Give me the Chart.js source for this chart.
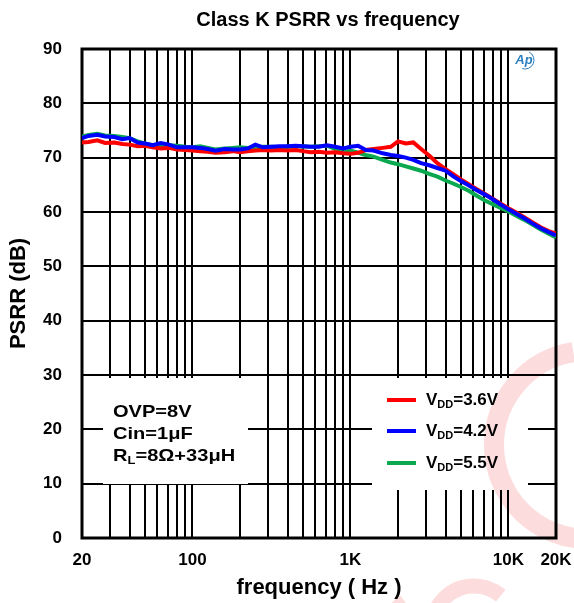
<!DOCTYPE html>
<html>
<head>
<meta charset="utf-8">
<script src="https://cdn.jsdelivr.net/npm/chart.js@4"></script>
<style>
  body { margin: 0; background: #fff; }
</style>
</head>
<body>
<canvas id="canvas" width="574" height="603"></canvas>
<script>
// 周波数 (Hz)
const freqs = [20, 22, 25, 28, 32, 36, 40, 45, 50, 56, 63, 71, 80, 90,
    100, 112, 125, 140, 160, 180, 200, 224, 250, 280, 315, 355, 400, 450, 500, 560, 630, 710, 800, 900,
    1000, 1120, 1250, 1400, 1600, 1800, 2000, 2240, 2500, 2800, 3150, 3550, 4000, 4500, 5000, 5600, 6300, 7100, 8000, 9000,
    10000, 11200, 12500, 14000, 16000, 18000, 20000];

// PSRR (dB)
const psrr36 = [72.8, 72.9, 73.2, 72.7, 72.8, 72.5, 72.4, 72.1, 72.2, 71.9, 71.7, 71.8, 71.5, 71.4,
    71.3, 71.2, 71.1, 70.9, 71.0, 71.2, 71.0, 71.2, 71.3, 71.4, 71.3, 71.4, 71.3, 71.4, 71.2, 71.0, 71.1, 70.9, 71.0, 70.8,
    70.7, 70.9, 71.4, 71.6, 71.8, 72.0, 73.0, 72.6, 72.8, 71.6, 70.4, 69.0, 67.9, 66.9, 66.0, 65.1, 64.2, 63.3, 62.4, 61.5,
    60.7, 59.9, 59.1, 58.2, 57.2, 56.5, 56.0];
const psrr42 = [73.6, 74.0, 74.2, 73.9, 73.8, 73.4, 73.6, 72.8, 72.6, 72.3, 72.7, 72.4, 71.9, 71.9,
    71.9, 71.8, 71.6, 71.3, 71.6, 71.5, 71.5, 71.7, 72.4, 71.9, 72.0, 72.1, 72.1, 72.2, 72.1, 72.0, 72.0, 72.3, 72.0, 71.7,
    72.0, 72.2, 71.4, 71.3, 70.8, 70.5, 70.3, 70.0, 69.6, 69.0, 68.6, 68.1, 67.6, 66.5, 65.7, 64.9, 64.0, 63.2, 62.3, 61.3,
    60.5, 59.7, 58.9, 58.0, 57.0, 56.3, 55.7];
const psrr55 = [73.9, 74.2, 74.4, 74.1, 74.0, 73.8, 73.6, 73.0, 72.6, 72.3, 72.1, 72.3, 72.2, 72.0,
    71.9, 72.1, 71.8, 71.5, 71.7, 71.8, 71.9, 71.8, 71.9, 72.0, 72.0, 71.9, 72.0, 72.0, 72.1, 72.0, 72.1, 72.2, 71.6, 70.9,
    71.3, 70.9, 70.5, 70.2, 69.6, 69.1, 68.8, 68.4, 68.0, 67.6, 67.0, 66.5, 65.8, 65.2, 64.6, 63.9, 63.0, 62.1, 61.4, 60.7,
    60.1, 59.3, 58.6, 57.8, 56.8, 56.0, 55.3];

// 目盛り
const gridFreqs = [20, 30, 40, 50, 60, 70, 80, 90, 100, 200, 300, 400, 500, 600, 700, 800, 900,
    1000, 2000, 3000, 4000, 5000, 6000, 7000, 8000, 9000, 10000, 20000];
const xTickLabels = {20: '20', 100: '100', 1000: '1K', 10000: '10K', 20000: '20K'};

const FONT = "'Liberation Sans', Arial, sans-serif";

function toPoints(values) {
    return freqs.map((f, i) => ({x: f, y: values[i]}));
}

// 横に少し伸ばした文字
function stretchText(ctx, text, x, y, sx) {
    ctx.save();
    ctx.translate(x, y);
    ctx.scale(sx, 1);
    ctx.fillText(text, 0, 0);
    const w = ctx.measureText(text).width * sx;
    ctx.restore();
    return w;
}

// 注記・凡例・枠などを描くプラグイン
const decorPlugin = {
    id: 'decor',
    beforeDatasetsDraw(chart) {
        const ctx = chart.ctx;
        const area = chart.chartArea;
        ctx.save();

        // 注記と凡例の白い箱
        ctx.fillStyle = '#fff';
        ctx.fillRect(103, 378, 145, 106);
        ctx.fillRect(372, 378, 156, 112);

        // 外枠
        ctx.strokeStyle = '#000';
        ctx.lineWidth = 3;
        ctx.strokeRect(area.left, area.top, area.right - area.left, area.bottom - area.top);

        ctx.fillStyle = '#000';
        ctx.textBaseline = 'middle';
        ctx.textAlign = 'left';
        const sx = 1.18;
        ctx.font = 'bold 17px ' + FONT;
        stretchText(ctx, 'OVP=8V', 113, 412, sx);
        stretchText(ctx, 'Cin=1μF', 113, 434, sx);
        let x = 113;
        x += stretchText(ctx, 'R', x, 456, sx);
        ctx.font = 'bold 11px ' + FONT;
        x += stretchText(ctx, 'L', x, 461, sx);
        ctx.font = 'bold 17px ' + FONT;
        stretchText(ctx, '=8Ω+33μH', x, 456, sx);

        // 凡例
        const items = chart.data.datasets;
        const ys = [400, 431, 463];
        items.forEach((ds, i) => {
            const y = ys[i];
            ctx.strokeStyle = ds.borderColor;
            ctx.lineWidth = 4;
            ctx.beginPath();
            ctx.moveTo(387, y);
            ctx.lineTo(416, y);
            ctx.stroke();
            let lx = 426;
            ctx.font = 'bold 17px ' + FONT;
            ctx.fillText('V', lx, y);
            lx += ctx.measureText('V').width;
            ctx.font = 'bold 11px ' + FONT;
            ctx.fillText('DD', lx, y + 5);
            lx += ctx.measureText('DD').width;
            ctx.font = 'bold 17px ' + FONT;
            ctx.fillText('=' + ds.label, lx, y);
        });

        // タイトル
        ctx.textAlign = 'center';
        ctx.font = 'bold 20px ' + FONT;
        ctx.fillText('Class K PSRR vs frequency', 328, 20);

        // ロゴ
        ctx.fillStyle = '#2a7fc0';
        ctx.strokeStyle = '#2a7fc0';
        ctx.font = 'italic bold 13px ' + FONT;
        ctx.fillText('Ap', 524, 60);
        ctx.lineWidth = 1;
        ctx.beginPath();
        ctx.arc(525, 60, 9, -Math.PI * 0.35, Math.PI * 0.6);
        ctx.stroke();
        ctx.restore();
    },
    afterDraw(chart) {
        // うすい透かし
        const ctx = chart.ctx;
        ctx.save();
        ctx.globalCompositeOperation = 'multiply';
        ctx.strokeStyle = '#fcdcdc';
        ctx.lineWidth = 20;
        ctx.beginPath();
        ctx.arc(588, 445, 94, Math.PI * 0.5, Math.PI * 1.45);
        ctx.stroke();
        ctx.lineWidth = 15;
        ctx.beginPath();
        ctx.arc(474, 628, 42, Math.PI * 1.0, Math.PI * 1.72);
        ctx.stroke();
        ctx.beginPath();
        ctx.arc(440, 650, 60, Math.PI * 1.12, Math.PI * 1.3);
        ctx.stroke();
        ctx.restore();
    }
};

const ctx = document.getElementById('canvas').getContext('2d');
new Chart(ctx, {
    type: 'line',
    data: {
        datasets: [
            {label: '3.6V', data: toPoints(psrr36), borderColor: '#ff0000', order: 1},
            {label: '4.2V', data: toPoints(psrr42), borderColor: '#0000ff', order: 0},
            {label: '5.5V', data: toPoints(psrr55), borderColor: '#0aa84f', order: 2}
        ]
    },
    options: {
        responsive: false,
        animation: false,
        layout: {padding: {top: 49, right: 18, left: 0, bottom: 0}},
        elements: {
            point: {radius: 0},
            line: {borderWidth: 4, tension: 0, fill: false}
        },
        plugins: {
            legend: {display: false},
            tooltip: {enabled: false}
        },
        scales: {
            x: {
                type: 'logarithmic',
                min: 20,
                max: 20000,
                afterBuildTicks: (scale) => {
                    scale.ticks = gridFreqs.map(v => ({value: v}));
                },
                afterFit: (scale) => {
                    scale.height = 65;
                    scale.paddingLeft = 0;
                    scale.paddingRight = 0;
                },
                grid: {color: '#000', lineWidth: 2, drawTicks: false},
                border: {display: false},
                ticks: {
                    autoSkip: false,
                    maxRotation: 0,
                    padding: 12,
                    color: '#000',
                    font: {family: FONT, size: 17, weight: 'bold'},
                    callback: (value) => xTickLabels[value] || ''
                },
                title: {
                    display: true,
                    text: 'frequency ( Hz )',
                    color: '#000',
                    font: {family: FONT, size: 22, weight: 'bold'},
                    padding: {top: 0, bottom: 2}
                }
            },
            y: {
                min: 0,
                max: 90,
                afterFit: (scale) => {
                    scale.width = 82;
                    scale.paddingTop = 0;
                    scale.paddingBottom = 0;
                },
                grid: {color: '#000', lineWidth: 2, drawTicks: false},
                border: {display: false},
                ticks: {
                    stepSize: 10,
                    padding: 20,
                    color: '#000',
                    font: {family: FONT, size: 17, weight: 'bold'}
                },
                title: {
                    display: true,
                    text: 'PSRR (dB)',
                    color: '#000',
                    font: {family: FONT, size: 22, weight: 'bold'},
                    padding: {top: 6, bottom: 0}
                }
            }
        }
    },
    plugins: [decorPlugin]
});
</script>
</body>
</html>
